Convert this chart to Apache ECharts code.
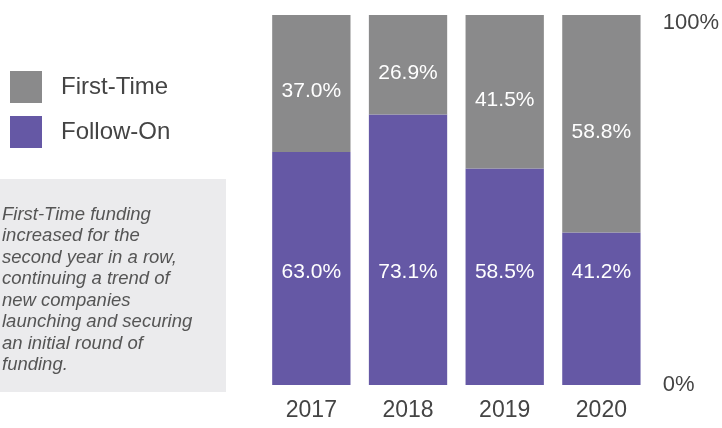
<!DOCTYPE html>
<html>
<head>
<meta charset="utf-8">
<script src="https://cdn.jsdelivr.net/npm/echarts@6/dist/echarts.min.js"></script>
<style>
  html, body { margin: 0; padding: 0; background: #fff; }
  #chart { width: 722px; height: 428px; }
</style>
</head>
<body>
<div id="chart"></div>
<script>
// Share of funding rounds by type, per year (percent)
const years = ['2017', '2018', '2019', '2020'];
const followOn = [63.0, 73.1, 58.5, 41.2];
const firstTime = [37.0, 26.9, 41.5, 58.8];
const noteLines = [
  'First-Time funding',
  'increased for the',
  'second year in a row,',
  'continuing a trend of',
  'new companies',
  'launching and securing',
  'an initial round of',
  'funding.'
];

const FONT = '"Liberation Sans", Arial, Helvetica, sans-serif';
const GREY = '#8a8a8b';
const PURPLE = '#6558a5';
const TEXT = '#444444';

const chart = echarts.init(document.getElementById('chart'));

const fmtPct = p => p.value.toFixed(1) + '%';

chart.setOption({
  animation: false,
  backgroundColor: '#ffffff',
  legend: {
    data: ['First-Time', 'Follow-On'],
    orient: 'vertical',
    left: 5,
    top: 66,
    itemWidth: 32,
    itemHeight: 32,
    itemGap: 13,
    icon: 'rect',
    selectedMode: false,
    textStyle: { color: TEXT, fontFamily: FONT, fontSize: 24, padding: [0, 0, 0, 14] }
  },
  grid: { left: 263, right: 70, top: 15, bottom: 43 },
  xAxis: {
    type: 'category',
    data: years,
    axisLine: { show: false },
    axisTick: { show: false },
    axisLabel: { color: TEXT, fontFamily: FONT, fontSize: 23, margin: 14 }
  },
  yAxis: {
    type: 'value',
    position: 'right',
    min: 0,
    max: 100,
    interval: 100,
    splitLine: { show: false },
    axisLine: { show: false },
    axisTick: { show: false },
    axisLabel: {
      color: TEXT,
      fontFamily: FONT,
      fontSize: 22,
      margin: 13,
      formatter: v => (v === 100 ? '{top|100%}' : v + '%'),
      rich: {
        top: { color: TEXT, fontFamily: FONT, fontSize: 22, padding: [16, 0, 0, 0] }
      }
    }
  },
  series: [
    {
      name: 'Follow-On',
      type: 'bar',
      stack: 'share',
      data: followOn,
      barCategoryGap: '19%',
      itemStyle: { color: PURPLE },
      label: {
        show: true,
        position: 'insideBottom',
        distance: 102,
        color: '#ffffff',
        fontFamily: FONT,
        fontSize: 21,
        formatter: fmtPct
      }
    },
    {
      name: 'First-Time',
      type: 'bar',
      stack: 'share',
      data: firstTime,
      itemStyle: { color: GREY },
      label: {
        show: true,
        position: 'inside',
        offset: [0, 8],
        color: '#ffffff',
        fontFamily: FONT,
        fontSize: 21,
        formatter: fmtPct
      }
    }
  ],
  graphic: [
    {
      type: 'rect',
      left: 0,
      top: 179,
      shape: { width: 226, height: 213 },
      style: { fill: '#ebebed' }
    },
    {
      type: 'text',
      left: 2,
      top: 204,
      style: {
        text: noteLines.join('\n'),
        fill: '#555555',
        font: 'italic 18.5px ' + FONT,
        lineHeight: 21.5
      }
    }
  ]
});
</script>
</body>
</html>
